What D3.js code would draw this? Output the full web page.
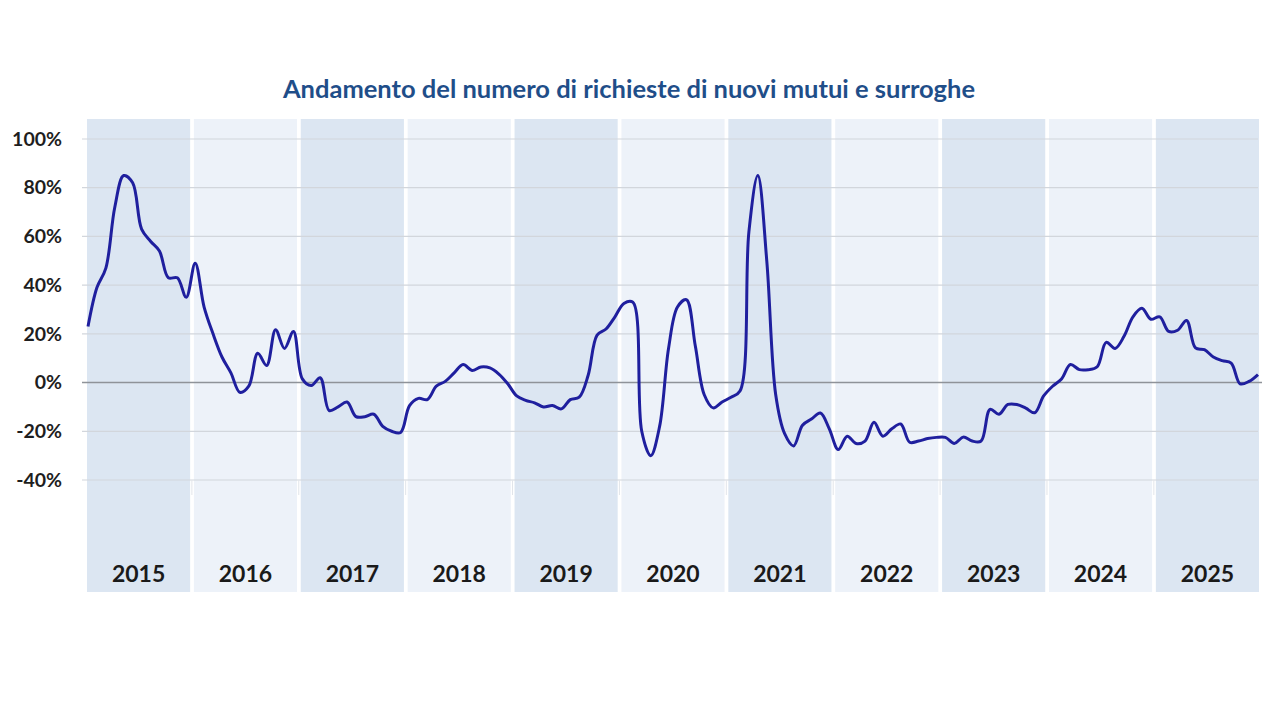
<!DOCTYPE html>
<html>
<head>
<meta charset="utf-8">
<script src="https://cdn.jsdelivr.net/npm/d3@7"></script>
<style>
  body { margin: 0; background: #fff; }
  text { font-family: Lato, "Open Sans", sans-serif; }
</style>
</head>
<body>
<div id="chart"></div>
<script>
// monthly values, Jan 2015 .. Dec 2025 (%)
var years = ["2015","2016","2017","2018","2019","2020","2021","2022","2023","2024","2025"];
var yTicks = [-40, -20, 0, 20, 40, 60, 80, 100];
var values = [
  23, 39, 47, 72, 85, 82, 63, 58, 54, 43, 43, 35,
  49, 31, 20, 10.5, 4, -4, -1.5, 12, 7, 21.7, 14, 21,
  1.5, -1.2, 2, -11.5, -10, -8, -14, -14, -13, -18, -20, -20.5,
  -9.5, -6.5, -7, -1.5, 0.5, 4, 7.4, 5, 6.4, 6, 3.5, -0.5,
  -5.5, -7.3, -8.3, -10, -9.4, -10.8, -7, -6, 3, 19.5, 22, 27,
  32.5, 33, -20, -30, -18, 14, 31, 34, 15, -5, -10.4, -8,
  -6, -3.5, 62, 85, 50, -5, -21, -26, -17.5, -15, -12.5, -19,
  -27.5, -22, -25, -24, -16.3, -22, -19, -17, -24.5, -24, -23, -22.5,
  -22.5, -25, -22.4, -24, -24, -11, -13, -9, -9, -10.5, -12.4, -5.5,
  -1.5, 1.5, 7.4, 5.3, 5.3, 6.5, 16.5, 14, 19, 27, 30.5, 26,
  27, 21, 21.5, 25.5, 14.2, 13.5, 10.5, 9, 8, -0.5, 0.5, 3.3
];
var title = "Andamento del numero di richieste di nuovi mutui e surroghe";

var width = 1280, height = 720;

var svg = d3.select("#chart").append("svg")
  .attr("width", width)
  .attr("height", height);

var band = d3.scaleBand()
  .domain(years)
  .range([87, 1259])
  .paddingInner(0.035);

var x = d3.scaleLinear()
  .domain([0, values.length - 1])
  .range([88, 1258]);

var y = d3.scaleLinear()
  .domain([-40, 100])
  .range([480, 139]);

// year bands
svg.append("g").selectAll("rect")
  .data(years)
  .enter().append("rect")
  .attr("x", d => band(d))
  .attr("y", 119)
  .attr("width", band.bandwidth())
  .attr("height", 473)
  .attr("fill", (d, i) => i % 2 == 0 ? "#dce6f2" : "#edf2f9");

// gridlines
svg.append("g").selectAll("line")
  .data(yTicks.filter(d => d != 0))
  .enter().append("line")
  .attr("x1", 82)
  .attr("x2", 1258)
  .attr("y1", d => y(d))
  .attr("y2", d => y(d))
  .attr("stroke", "#d2d6dc")
  .attr("stroke-width", 1.2);

// small ticks under the lowest gridline
svg.append("g").selectAll("line")
  .data(years.slice(1))
  .enter().append("line")
  .attr("x1", d => band(d) - 2)
  .attr("x2", d => band(d) - 2)
  .attr("y1", y(-40))
  .attr("y2", y(-40) + 15)
  .attr("stroke", "#e2e5ea")
  .attr("stroke-width", 1);

// y axis labels
var yAxis = d3.axisLeft(y)
  .tickValues(yTicks)
  .tickFormat(d => d + "%")
  .tickSize(0)
  .tickPadding(0);

var gy = svg.append("g")
  .attr("transform", "translate(62,0)")
  .call(yAxis);
gy.select(".domain").remove();
gy.selectAll("text")
  .attr("font-family", "Lato, sans-serif")
  .attr("font-size", 19.5)
  .attr("font-weight", "bold")
  .attr("fill", "#1e1e1e");

// zero line
svg.append("line")
  .attr("x1", 82)
  .attr("x2", 1262)
  .attr("y1", y(0))
  .attr("y2", y(0))
  .attr("stroke", "#8f9399")
  .attr("stroke-width", 1.6);

// year labels
svg.append("g").selectAll("text")
  .data(years)
  .enter().append("text")
  .attr("x", d => band(d) + band.bandwidth() / 2)
  .attr("y", 582)
  .attr("text-anchor", "middle")
  .attr("font-size", 23)
  .attr("font-weight", "bold")
  .attr("fill", "#1a1a1a")
  .text(d => d);

// the line
var line = d3.line()
  .x((d, i) => x(i))
  .y(d => y(d))
  .curve(d3.curveCatmullRom.alpha(0.5));

svg.append("path")
  .datum(values)
  .attr("d", line)
  .attr("fill", "none")
  .attr("stroke", "#1f1f9e")
  .attr("stroke-width", 3)
  .attr("stroke-linejoin", "round");

// title
svg.append("text")
  .attr("x", 629)
  .attr("y", 98)
  .attr("text-anchor", "middle")
  .attr("font-size", 25.5)
  .attr("font-weight", "bold")
  .attr("fill", "#1f4e89")
  .text(title);
</script>
</body>
</html>
